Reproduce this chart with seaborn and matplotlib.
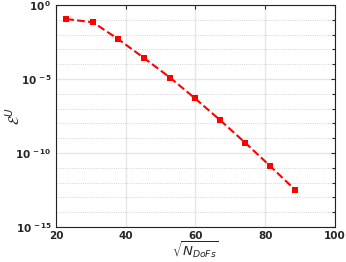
import matplotlib
matplotlib.use("Agg")
import matplotlib.pyplot as plt
import matplotlib.ticker as mticker
import numpy as np
import pandas as pd
import seaborn as sns

sqrt_dofs = [22.9, 30.6, 37.9, 45.2, 52.7, 59.8, 67.0, 74.2, 81.3, 88.5]
log_error = [-0.95, -1.17, -2.32, -3.58, -4.91, -6.30, -7.77, -9.30, -10.86, -12.48]
x_ticks = [20, 40, 60, 80, 100]
y_major = [0, -5, -10, -15]

df = pd.DataFrame({"x": sqrt_dofs, "err": 10.0 ** np.array(log_error)})

sns.set_style("white")
plt.rcParams["font.family"] = ["DejaVu Sans"]

fig = plt.figure(figsize=(3.46, 2.62), dpi=100)
ax = fig.add_axes([0.162, 0.134, 0.806, 0.847])

sns.lineplot(data=df, x="x", y="err", ax=ax, color="#ff0000", linestyle="--",
             linewidth=1.5, marker="s", markersize=5, markeredgewidth=0)
ax.set_yscale("log")
ax.set_xlim(20, 100)
ax.set_ylim(1e-15, 1)

ax.set_xticks(x_ticks)
ax.set_yticks([10.0 ** e for e in y_major])
ax.set_yticklabels([r"$\mathregular{10^{\,%d}}$" % e for e in y_major])
ax.yaxis.set_minor_locator(mticker.FixedLocator([10.0 ** e for e in range(-14, 0) if e % 5]))
ax.yaxis.set_minor_formatter(mticker.NullFormatter())

ax.grid(True, which="major", color="#e6e6e6", linewidth=1.0, linestyle="-")
ax.grid(True, which="minor", axis="y", color="#c8c8c8", linewidth=0.6, linestyle=":")
ax.set_axisbelow(True)

ax.tick_params(which="both", direction="in", top=True, right=True, labelsize=7.5, length=3, width=0.8, pad=3)
ax.tick_params(which="minor", length=2)
for label in ax.get_xticklabels() + ax.get_yticklabels():
    label.set_fontweight("bold")
for spine in ax.spines.values():
    spine.set_color("#222222")
    spine.set_linewidth(0.8)

ax.set_xlabel(r"$\sqrt{N_{DoFs}}$", fontsize=9.5)
ax.set_ylabel(r"$\mathcal{E}^{U}$", fontsize=10.5)
ax.xaxis.set_label_coords(0.5, -0.06)
ax.yaxis.set_label_coords(-0.12, 0.5)

fig.savefig("out.png", dpi=100)
